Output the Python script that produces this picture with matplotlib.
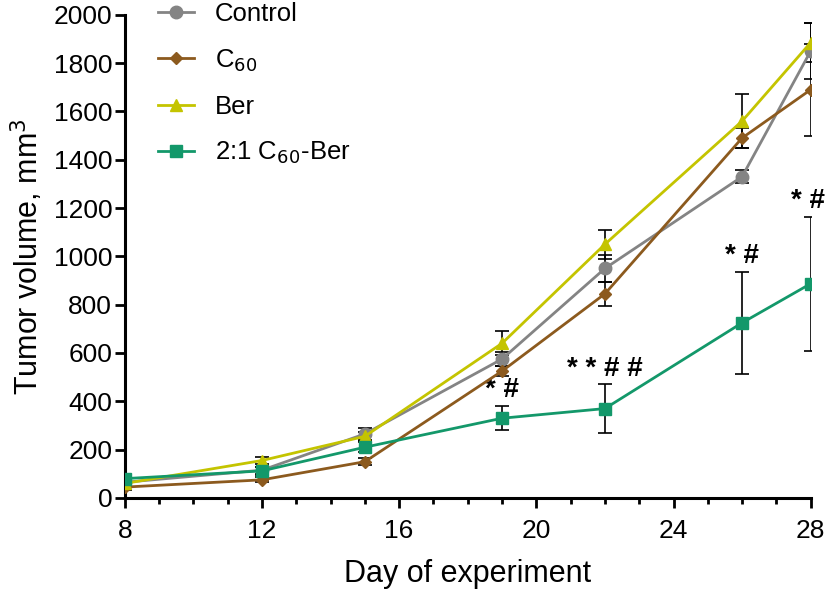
import numpy as np
import matplotlib.pyplot as plt

plt.rcParams['font.family'] = ['Liberation Sans', 'DejaVu Sans']

days = [8, 12, 15, 19, 22, 26, 28]

control = [65, 115, 265, 575, 950, 1330, 1850]
control_err = [15, 15, 25, 30, 55, 28, 115]
c60 = [45, 75, 150, 525, 845, 1490, 1690]
c60_err = [10, 10, 15, 20, 50, 40, 190]
ber = [60, 155, 255, 640, 1050, 1560, 1885]
ber_err = [10, 15, 20, 50, 60, 110, 80]
combo = [80, 112, 210, 330, 370, 725, 887]
combo_err = [10, 15, 20, 50, 100, 210, 277]

stars = {19: '* #', 22: '* * # #', 26: '* #', 28: '* #'}

fig = plt.figure(figsize=(8.26, 5.9), dpi=100)
ax = fig.add_axes([0.151, 0.156, 0.8305, 0.819])

series = [
    ('Control', control, control_err, '#848484', 'o', 9),
    ('C$_{60}$', c60, c60_err, '#8c5a1e', 'D', 6),
    ('Ber', ber, ber_err, '#c4c400', '^', 9),
    ('2:1 C$_{60}$-Ber', combo, combo_err, '#13986a', 's', 8),
]

for name, vals, err, col, mk, ms in series:
    ax.errorbar(days, vals, yerr=err, color=col, marker=mk, markersize=ms,
                linewidth=2, ecolor='black', elinewidth=1.2, capsize=5,
                capthick=1.2, label=name, zorder=3)

for d, s in stars.items():
    i = days.index(d)
    top = combo[i] + combo_err[i]
    dx = -2 if d == 28 else 0
    ax.annotate(s, (d, top), xytext=(dx, 2), textcoords='offset points',
                ha='center', va='bottom', fontsize=20, fontweight='bold',
                annotation_clip=False)

ax.set_xlim(8, 28)
ax.set_ylim(0, 2000)
ax.set_xticks(range(8, 29, 4))
ax.set_xticks(range(8, 29), minor=True)
ax.set_yticks(range(0, 2001, 200))
ax.tick_params(axis='both', which='major', labelsize=19, width=2, length=7)
ax.tick_params(axis='x', which='major', pad=8)
ax.tick_params(axis='y', which='major', pad=2)
ax.tick_params(axis='x', which='minor', width=2, length=4)
for side in ['top', 'right']:
    ax.spines[side].set_visible(False)
for side in ['left', 'bottom']:
    ax.spines[side].set_linewidth(2.2)
ax.set_xlabel('Day of experiment', fontsize=22, labelpad=12)
ax.set_ylabel('Tumor volume, mm$^3$', fontsize=22, labelpad=6)

handles, labels = ax.get_legend_handles_labels()
handles = [h[0] for h in handles]
ax.legend(handles, labels, loc='upper left', bbox_to_anchor=(0.049, 1.026),
          frameon=False, fontsize=18.5, handlelength=1.4, handletextpad=0.8,
          labelspacing=0.82, borderpad=0, borderaxespad=0)

fig.savefig('out.png', dpi=100)
